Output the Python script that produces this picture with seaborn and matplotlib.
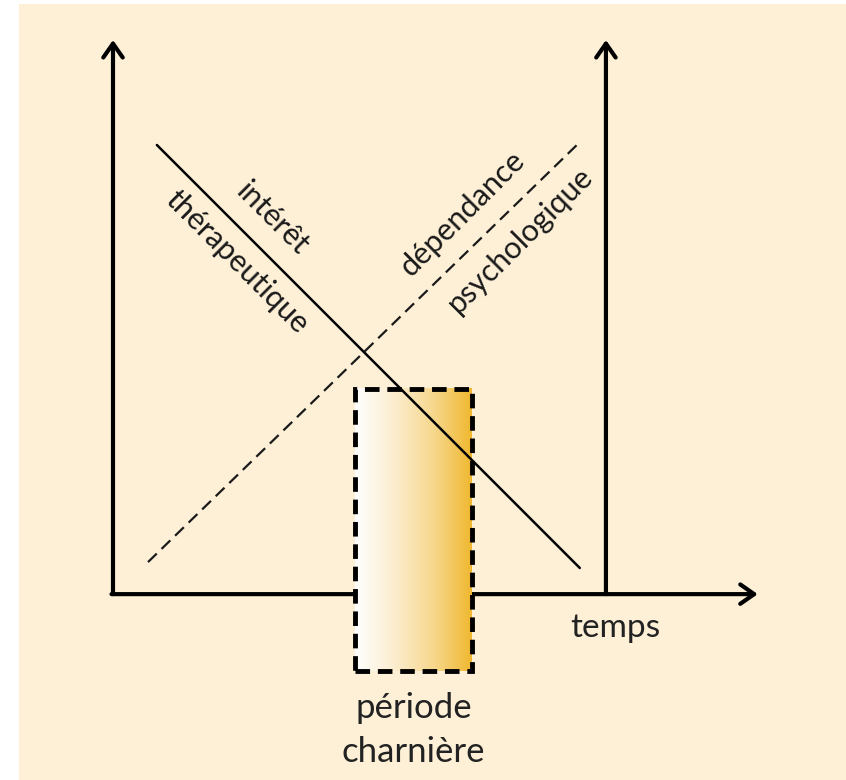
import matplotlib.pyplot as plt
import seaborn as sns
import numpy as np
from matplotlib.colors import LinearSegmentedColormap
from matplotlib.patches import Rectangle

sns.set_theme(style="white")
plt.rcParams['font.family'] = ['Lato', 'DejaVu Sans']

# --- data (time units, same scale on both axes) ---
t_interet = [0.89, 9.47]
interet = [9.11, 0.53]
t_dependance = [0.71, 9.41]
dependance = [0.65, 9.11]
periode = [4.91, 7.28]          # start / end of the "période charnière"
periode_haut = 4.16
periode_bas = -1.56
axe_temps_fin = 13.08
axe_y_haut = 11.24
axe_droit = 10.0

bg = '#FDF0D7'

fig = plt.figure(figsize=(8.46, 7.8), dpi=100)
fig.patch.set_facecolor('white')
ax = fig.add_axes([19 / 846, 0, 1 - 19 / 846, 776 / 780])
ax.set_facecolor(bg)

# axes with arrows
arrow = dict(arrowstyle='->,head_length=0.5,head_width=0.35', lw=3.0, color='black',
             shrinkA=0, shrinkB=0, mutation_scale=20)
ax.annotate('', xy=(0, axe_y_haut), xytext=(0, 0), arrowprops=arrow, zorder=2)
ax.annotate('', xy=(axe_droit, axe_y_haut), xytext=(axe_droit, 0), arrowprops=arrow, zorder=2)
ax.annotate('', xy=(axe_temps_fin, 0), xytext=(-0.03, 0), arrowprops=arrow, zorder=2)

# curves
sns.lineplot(x=t_interet, y=interet, ax=ax, color='black', lw=1.8, zorder=6)
sns.lineplot(x=t_dependance, y=dependance, ax=ax, color='#1a1a1a', lw=1.6,
             linestyle=(0, (5.5, 3)), zorder=3)

# gradient box
cmap = LinearSegmentedColormap.from_list('charniere', ['#FFFFFF', '#FCEDCF', '#F7D88F', '#F0B830'])
ax.imshow(np.linspace(0, 1, 256).reshape(1, -1), cmap=cmap, aspect='auto',
          extent=[periode[0], periode[1], periode_bas, periode_haut], zorder=4)
ax.add_patch(Rectangle((periode[0], periode_bas), periode[1] - periode[0], periode_haut - periode_bas,
                       fill=False, ec='black', lw=3.5, ls=(0, (3.0, 1.6)), zorder=5))

# labels
ax.text(3.23, 7.63, 'intérêt', rotation=-45, rotation_mode='anchor',
        ha='center', va='center', fontsize=22, color='#1a1a1a')
ax.text(2.52, 6.73, 'thérapeutique', rotation=-45, rotation_mode='anchor',
        ha='center', va='center', fontsize=22, color='#1a1a1a')
ax.text(7.10, 7.73, 'dépendance', rotation=45, rotation_mode='anchor',
        ha='center', va='center', fontsize=22, color='#1a1a1a')
ax.text(8.26, 7.18, 'psychologique', rotation=45, rotation_mode='anchor',
        ha='center', va='center', fontsize=22, color='#1a1a1a')
ax.text(10.2, -0.87, 'temps', ha='center', va='baseline', fontsize=24, color='#222222')
ax.text(sum(periode) / 2, -2.52, 'période', ha='center', va='baseline', fontsize=25, color='#222222')
ax.text(sum(periode) / 2, -3.41, 'charnière', ha='center', va='baseline', fontsize=25, color='#222222')

ax.set_xlim(-1.907, 14.87)
ax.set_ylim(-3.77, 11.97)
ax.set_xticks([])
ax.set_yticks([])
sns.despine(ax=ax, left=True, bottom=True)

fig.savefig('out.png', dpi=100, facecolor='white')
